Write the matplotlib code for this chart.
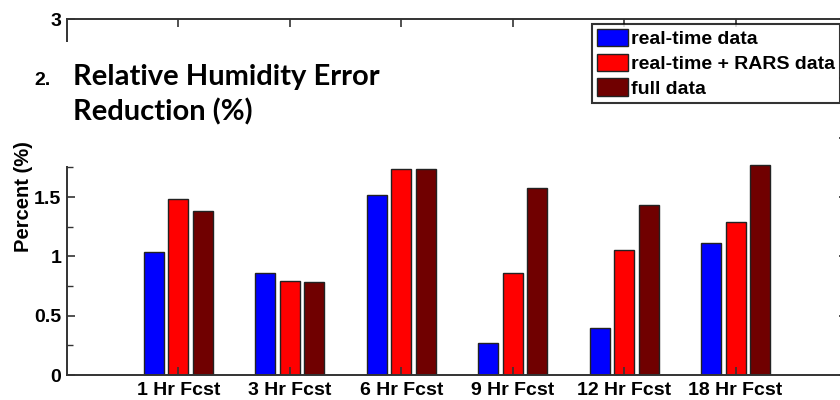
import numpy as np
import matplotlib.pyplot as plt
from matplotlib.patches import Rectangle

# data
categories = ["1 Hr Fcst", "3 Hr Fcst", "6 Hr Fcst", "9 Hr Fcst", "12 Hr Fcst", "18 Hr Fcst"]
series_names = ["real-time data", "real-time + RARS data", "full data"]
realtime = [1.04, 0.86, 1.52, 0.27, 0.40, 1.11]
realtime_rars = [1.48, 0.79, 1.74, 0.86, 1.05, 1.29]
full = [1.38, 0.78, 1.74, 1.58, 1.43, 1.77]
colors = ["#0000FF", "#FF0000", "#700000"]
yticks = [0, 0.5, 1, 1.5, 2, 2.5, 3]
yticklabels = ['0', '0.5', '1', '1.5', '2', '2.5', '3']
yminor = [0.25, 0.75, 1.25, 1.75, 2.25, 2.75]

plt.rcParams['font.family'] = ['Liberation Sans', 'DejaVu Sans']
plt.rcParams['font.weight'] = 'bold'

W, H = 840, 400
fig = plt.figure(figsize=(8.4, 4.0), dpi=100)
# axes runs slightly off the right edge, as in the screenshot
ax = fig.add_axes([67 / W, 25 / H, 780 / W, 356 / H])

x = np.arange(1, len(categories) + 1)
offs = 0.22
bw = 0.18
for vals, off, c, name in zip([realtime, realtime_rars, full], [-offs, 0, offs], colors, series_names):
    ax.bar(x + off, vals, width=bw, color=c, edgecolor='#222222', linewidth=1.0, label=name)

ax.set_xlim(0, 7)
ax.set_ylim(0, 3)
ax.set_xticks(x)
ax.set_xticklabels(categories, fontsize=14, fontweight='bold')
ax.set_yticks(yticks)
ax.set_yticklabels(yticklabels, fontsize=14, fontweight='bold')
ax.set_yticks(yminor, minor=True)
ax.tick_params(axis='both', which='major', direction='in', length=6, width=1.2,
               top=True, right=True, color='#333333', pad=4)
ax.tick_params(axis='y', which='minor', direction='in', length=4, width=1.0,
               right=True, color='#333333')
ax.tick_params(axis='x', pad=5)
for s in ax.spines.values():
    s.set_color('#333333')
    s.set_linewidth(1.4)
ax.set_ylabel("Percent (%)", fontsize=14.5, fontweight='bold')
ax.yaxis.set_label_coords(-34 / 780, 0.5)

leg = ax.legend(loc='upper left', bbox_to_anchor=(592 / W, 1 - 24 / H),
                bbox_transform=fig.transFigure, fontsize=14, frameon=True,
                fancybox=False, edgecolor='black', handlelength=1.6, handleheight=1.0,
                handletextpad=0.15, labelspacing=0.28, borderpad=0.25, borderaxespad=0)
leg.get_frame().set_linewidth(1.5)
for t in leg.get_texts():
    t.set_fontweight('bold')

# white slide box pasted over the chart, with the slide heading
fig.patches.append(Rectangle((50 / W, 1 - 166 / H), 510 / W, 124 / H,
                             transform=fig.transFigure, facecolor='white',
                             edgecolor='none', zorder=5))
fig.text(73 / W, 1 - 85 / H, "Relative Humidity Error", fontsize=21, fontweight='bold',
         family=['Lato', 'DejaVu Sans'], va='baseline', zorder=6)
fig.text(73 / W, 1 - 120 / H, "Reduction (%)", fontsize=21, fontweight='bold',
         family=['Lato', 'DejaVu Sans'], va='baseline', zorder=6)

fig.savefig("out.png", dpi=100)
